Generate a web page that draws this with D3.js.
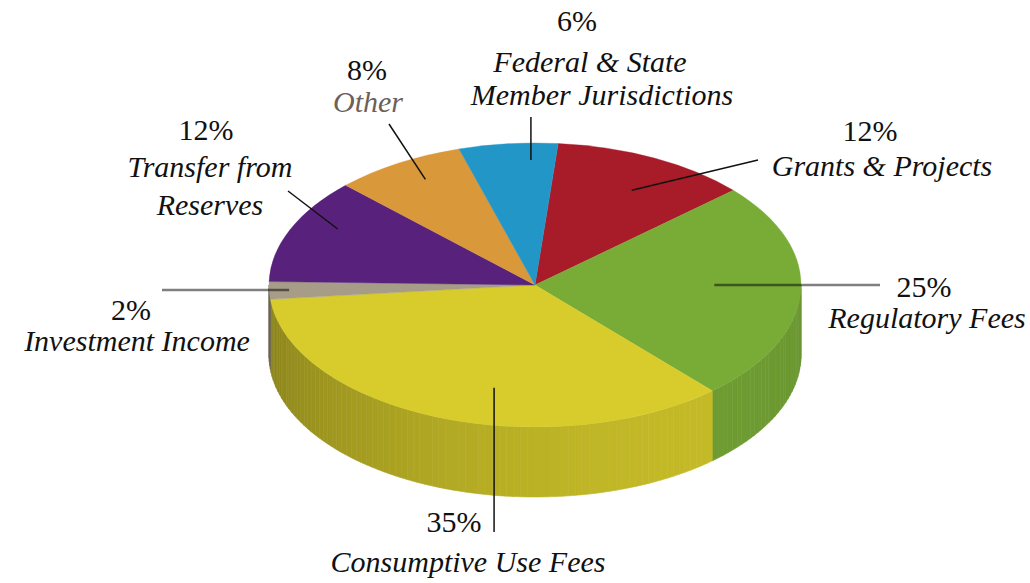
<!DOCTYPE html>
<html><head><meta charset="utf-8">
<script src="https://cdn.jsdelivr.net/npm/d3@7"></script>
<style>body{margin:0;background:#fff}svg{display:block}</style>
</head><body><svg id="c" width="1030" height="583"></svg>
<script>
// ---- data ----
const categories = ["Grants & Projects", "Regulatory Fees", "Consumptive Use Fees", "Investment Income", "Transfer from\nReserves", "Other", "Federal & State\nMember Jurisdictions"];
const values = [12, 25, 35, 2, 12, 8, 6];
const pctLabels = ["12%", "25%", "35%", "2%", "12%", "8%", "6%"];
const colors = ["#A81B29", "#79AC37", "#D7CC2B", "#A69C88", "#58227C", "#D9983A", "#2396C8"];

// ---- layout ----
const cx = 535, cy = 285, rx = 266, ry = 142, depth = 70, startDeg = 5;
const fontSize = 30;
const layout = [
  {pct:[870,141], name:[882,176], gap:33, outer:[758,160], da:2,   rf:0.76, grey:false},
  {pct:[924,297], name:[927,328], gap:33, outer:[880,null], da:-3.2, rf:0.674, grey:true},
  {pct:[454,532], name:[468,572], gap:33, outer:[null,532], da:-9.2, rf:0.74, grey:false},
  {pct:[131,320], name:[137,351], gap:33, outer:[162,null], da:0,   rf:0.925, grey:true},
  {pct:[206,140], name:[210,177], gap:38, outer:[288,191], da:5,   rf:0.84, grey:false},
  {pct:[367,80],  name:[368,112], gap:33, outer:[389,124], da:2,   rf:0.85, grey:false, color:"#6E5F58"},
  {pct:[577,31],  name:[590,72],  gap:33, outer:[null,117], da:4.8, rf:0.88, grey:false, name2x:602}
];

const svg = d3.select("#c");
const rad = Math.PI/180;
const pie = d3.pie().sort(null).value(d => d)
  .startAngle(startDeg*rad).endAngle(startDeg*rad + 2*Math.PI);
const arcs = pie(values);
const pt = (t, f=1) => [cx + rx*f*Math.sin(t), cy - ry*f*Math.cos(t)];

// ---- side walls (front half only) ----
const side = svg.append("g");
const shade = (c, t) => {
  const k = 0.74 + 0.17*Math.cos(t - 140*rad);
  const r = d3.rgb(c);
  return d3.rgb(r.r*k, r.g*k, r.b*k).formatHex();
};
const line = d3.line();
arcs.forEach((a, i) => {
  const lo = Math.max(a.startAngle, Math.PI/2), hi = Math.min(a.endAngle, 3*Math.PI/2);
  if (hi <= lo) return;
  const step = 1.5*rad;
  for (let t = lo; t < hi; t += step) {
    const t2 = Math.min(t + step, hi);
    const p0 = pt(t), p1 = pt(t2);
    const poly = [p0, p1, [p1[0], p1[1]+depth], [p0[0], p0[1]+depth]];
    const col = shade(colors[i], (t+t2)/2);
    side.append("path").attr("d", line(poly) + "Z")
      .attr("fill", col).attr("stroke", col).attr("stroke-width", 0.6);
  }
});

// ---- top faces ----
const arc = d3.arc().innerRadius(0).outerRadius(rx);
svg.append("g").attr("transform", `translate(${cx},${cy}) scale(1,${ry/rx})`)
  .selectAll("path").data(arcs).join("path")
  .attr("d", arc).attr("fill", (d,i) => colors[i])
  .attr("stroke", (d,i) => colors[i]).attr("stroke-width", 0.5);

// ---- leader lines ----
const lg = svg.append("g");
arcs.forEach((a, i) => {
  const L = layout[i];
  const t = (a.startAngle + a.endAngle)/2 + L.da*rad;
  const p = pt(t, L.rf);
  const ox = L.outer[0] == null ? p[0] : L.outer[0];
  const oy = L.outer[1] == null ? p[1] : L.outer[1];
  lg.append("line").attr("x1", p[0]).attr("y1", p[1]).attr("x2", ox).attr("y2", oy)
    .attr("stroke", L.grey ? "#000" : "#111")
    .attr("stroke-opacity", L.grey ? 0.5 : 1)
    .attr("stroke-width", L.grey ? 2.6 : 1.5);
});

// ---- labels ----
const tg = svg.append("g");
const txt = (x, y, s, italic, fill) => tg.append("text").attr("x", x).attr("y", y)
  .attr("text-anchor", "middle").attr("fill", fill)
  .style("font-family", '"Liberation Serif"')
  .style("font-size", fontSize + "px").style("font-style", italic ? "italic" : "normal")
  .text(s);
categories.forEach((c, i) => {
  const L = layout[i];
  txt(L.pct[0], L.pct[1], pctLabels[i], false, "#111");
  c.split("\n").forEach((s, j) => {
    const x = (j > 0 && L.name2x) ? L.name2x : L.name[0];
    txt(x, L.name[1] + j*L.gap, s, true, L.color || "#111");
  });
});
</script></body></html>
